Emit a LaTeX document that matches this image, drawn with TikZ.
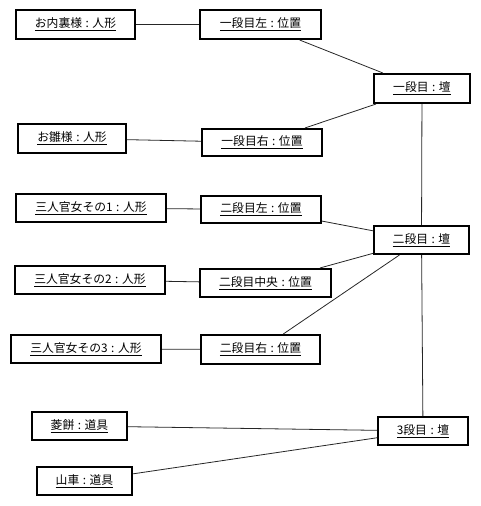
\documentclass[tikz,border=0pt]{standalone}
\usepackage{fontspec}
\setmainfont{Noto Sans CJK JP}
\tikzset{
  obj/.style={draw=black, line width=2bp, fill=white, inner sep=0pt,
    minimum height=28bp, font=\fontsize{11.8bp}{14bp}\selectfont},
  link/.style={draw=black!85, line width=0.8bp}
}
\newcommand{\ul}[1]{\underline{#1}}
\newcommand{\cln}{\hspace{0.3em}:\hspace{0.3em}}
\begin{document}
\begin{tikzpicture}[x=1bp,y=-1bp]
\useasboundingbox (0,0) rectangle (481,506);
\node[obj, minimum width=119bp, minimum height=29bp] (a1) at (75.5,24.5) {\ul{お内裏様\cln 人形}};
\node[obj, minimum width=121bp, minimum height=29bp] (b1) at (260.5,24.5) {\ul{一段目左\cln 位置}};
\node[obj, minimum width=96bp, minimum height=29bp] (d1) at (422,88.5) {\ul{一段目\cln 壇}};
\node[obj, minimum width=108bp, minimum height=29bp] (a2) at (72,138.5) {\ul{お雛様\cln 人形}};
\node[obj, minimum width=120bp, minimum height=27bp] (b2) at (262,142.5) {\ul{一段目右\cln 位置}};
\node[obj, minimum width=150bp] (a3) at (91,208) {\ul{三人官女その1\cln 人形}};
\node[obj, minimum width=120bp, minimum height=27bp] (b3) at (261,209.5) {\ul{二段目左\cln 位置}};
\node[obj, minimum width=95bp] (d2) at (421.5,240) {\ul{二段目\cln 壇}};
\node[obj, minimum width=150bp] (a4) at (90,280) {\ul{三人官女その2\cln 人形}};
\node[obj, minimum width=131bp] (b4) at (265.5,283) {\ul{二段目中央\cln 位置}};
\node[obj, minimum width=150bp] (a5) at (86,349) {\ul{三人官女その3\cln 人形}};
\node[obj, minimum width=119bp, minimum height=29bp] (b5) at (260.5,349.5) {\ul{二段目右\cln 位置}};
\node[obj, minimum width=95bp] (c1) at (79.5,426) {\ul{菱餅\cln 道具}};
\node[obj, minimum width=95bp] (c2) at (84.5,481) {\ul{山車\cln 道具}};
\node[obj, minimum width=90bp] (d3) at (423,431) {\ul{3段目\cln 壇}};
\draw[link] (a1) -- (b1);
\draw[link] (b1) -- (d1);
\draw[link] (a2) -- (b2);
\draw[link] (b2) -- (d1);
\draw[link] (d1) -- (d2);
\draw[link] (a3) -- (b3);
\draw[link] (b3) -- (d2);
\draw[link] (a4) -- (b4);
\draw[link] (b4) -- (d2);
\draw[link] (a5) -- (b5);
\draw[link] (b5) -- (d2);
\draw[link] (d2) -- (d3);
\draw[link] (c1) -- (d3);
\draw[link] (c2) -- (d3);
\end{tikzpicture}
\end{document}
